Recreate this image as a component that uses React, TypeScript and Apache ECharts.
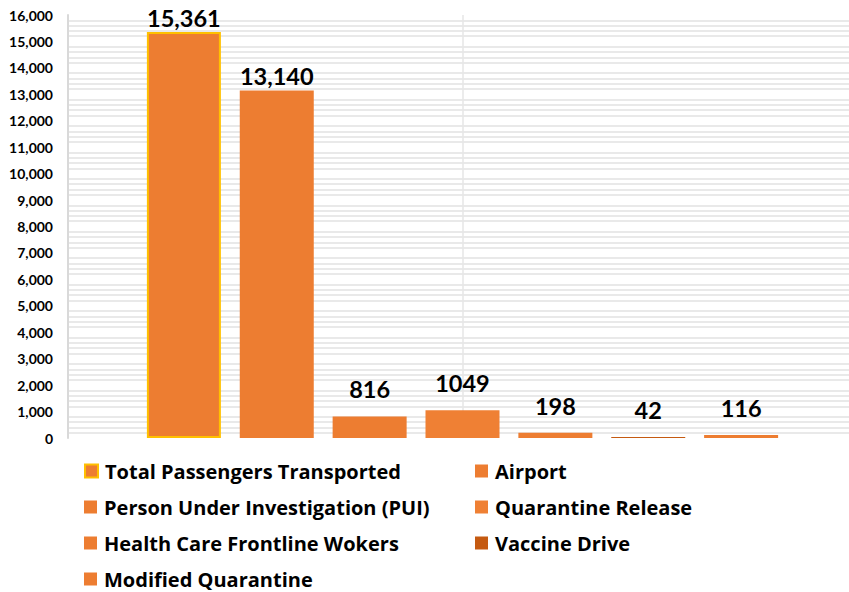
import React, { useEffect, useRef } from "react";
import * as echarts from "echarts";

const seriesNames = [
  "Total Passengers Transported",
  "Airport",
  "Person Under Investigation (PUI)",
  "Quarantine Release",
  "Health Care Frontline Wokers",
  "Vaccine Drive",
  "Modified Quarantine",
];
const seriesValues = [15361, 13140, 816, 1049, 198, 42, 116];
const valueLabels = ["15,361", "13,140", "816", "1049", "198", "42", "116"];
const seriesColors = ["#ED7D31", "#ED7D31", "#ED7D31", "#EF8034", "#ED7D31", "#C55A11", "#ED7D31"];
// legend grid: [column, row] for each series (Excel-style two-column legend)
const legendCells = [
  [0, 0],
  [1, 0],
  [0, 1],
  [1, 1],
  [0, 2],
  [1, 2],
  [0, 3],
];
const labelDistances = [2, 3, 15, 15, 15, 15, 15];

const FONT = "Lato, 'Open Sans', sans-serif";
const LEGEND_FONT = "'Open Sans', Lato, sans-serif";

export default function App() {
  const ref = useRef<HTMLDivElement>(null);
  useEffect(() => {
    if (!ref.current) return;
    const chart = echarts.init(ref.current, null, { renderer: "svg" });
    const series: any[] = seriesNames.map((name, i) => ({
      name,
      type: "bar",
      data: [seriesValues[i]],
      barWidth: 74,
      barGap: "25.5%",
      z: 3,
      itemStyle: {
        color: seriesColors[i],
        borderColor: i === 0 ? "#FFC000" : seriesColors[i],
        borderWidth: i === 0 ? 2 : 0,
      },
      label: {
        show: true,
        position: "top",
        distance: labelDistances[i],
        formatter: () => valueLabels[i],
        fontFamily: FONT,
        fontWeight: "bold",
        fontSize: 23.5,
        color: "#000",
      },
    }));
    const legends = seriesNames.map((name, i) => ({
      orient: "horizontal",
      icon: "rect",
      itemWidth: 13,
      itemHeight: 13,
      padding: 0,
      selectedMode: false,
      left: legendCells[i][0] === 0 ? 84 : 475,
      top: 461 + legendCells[i][1] * 36,
      data: [name],
      textStyle: {
        fontFamily: LEGEND_FONT,
        fontWeight: "bold",
        fontSize: 20,
        lineHeight: 20,
        color: "#000",
        padding: [0, 0, 0, 2],
      },
    }));
    chart.setOption({
      animation: false,
      backgroundColor: "#fff",
      textStyle: { fontFamily: FONT },
      legend: legends,
      grid: {
        left: 68,
        top: 15,
        right: -8,
        bottom: 154,
        containLabel: false,
        outerBoundsMode: "none",
      },
      xAxis: [
        {
          type: "category",
          data: [""],
          axisLine: { show: false },
          axisTick: { show: false },
          axisLabel: { show: false },
          splitLine: { show: false },
        },
        {
          type: "value",
          min: 0,
          max: 2,
          interval: 1,
          position: "bottom",
          axisLine: { show: false },
          axisTick: { show: false },
          axisLabel: { show: false },
          splitLine: { show: true, lineStyle: { color: "#e6e6e6", width: 1.5 } },
        },
      ],
      yAxis: {
        type: "value",
        min: 0,
        max: 16000,
        interval: 1000,
        axisLine: { show: true, lineStyle: { color: "#d9d9d9", width: 2 } },
        axisTick: { show: false },
        splitLine: { show: false },
        minorTick: { show: false, splitNumber: 5 },
        minorSplitLine: { show: true, lineStyle: { color: "#e2e2e2", width: 1.6 } },
        axisLabel: {
          margin: 15,
          fontFamily: FONT,
          fontWeight: "bold",
          fontSize: 14,
          color: "#000",
          formatter: (v: number) => v.toLocaleString("en-US"),
        },
      },
      series,
    });
    return () => chart.dispose();
  }, []);
  return (
    <div
      ref={ref}
      style={{ position: "absolute", left: 0, top: 0, width: 849, height: 592, overflow: "hidden" }}
    />
  );
}
